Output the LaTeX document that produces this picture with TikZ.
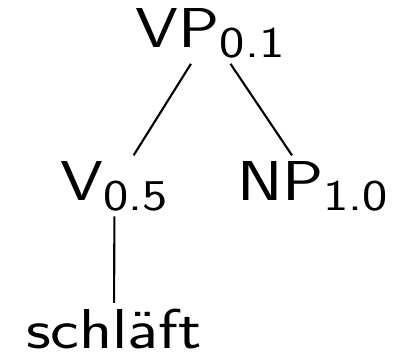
\documentclass[tikz,border=0pt]{standalone}
\usepackage{tikz}

% lowered index after a category label
\newcommand{\lo}[1]{\raisebox{-0.2cm}{\fontsize{25}{30}\selectfont #1}}

\tikzset{cat/.style={font=\sffamily\fontsize{32}{38}\selectfont,inner sep=3pt,
    anchor=base,xscale=1.22,transform shape}}

\begin{document}
\begin{tikzpicture}[x=0.02cm,y=-0.02cm]
  \useasboundingbox (0,0) rectangle (394,359);
  \node[cat] (vp) at (210,47.5) {VP\lo{0.1}};
  \node[cat] (v) at (114.5,200) {V\lo{0.5}};
  \node[cat] (np) at (312.5,200) {NP\lo{1.0}};
  \node[cat] (w) at (114,348) {schläft};
  \draw[line width=1.2pt] (vp) -- (v);
  \draw[line width=1.2pt] (vp) -- (np);
  \draw[line width=1.2pt] (v) -- (w);
\end{tikzpicture}
\end{document}
